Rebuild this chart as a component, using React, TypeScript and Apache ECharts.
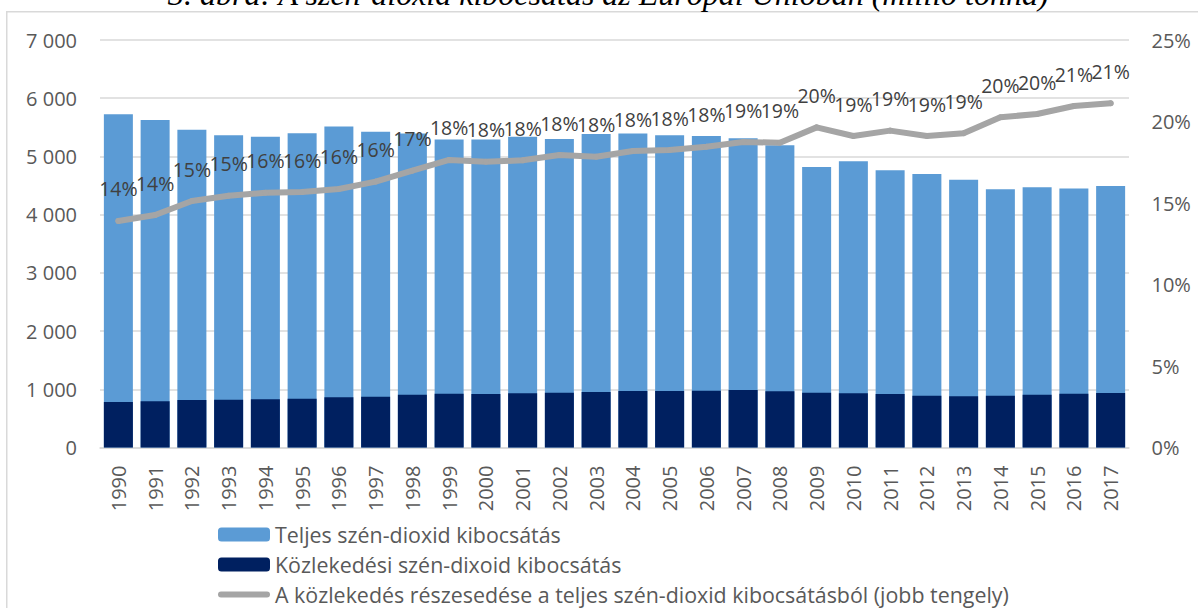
import React, { useEffect, useRef } from "react";
import * as echarts from "echarts";

// Years on the category axis
const years = [
  "1990", "1991", "1992", "1993", "1994", "1995", "1996", "1997", "1998", "1999",
  "2000", "2001", "2002", "2003", "2004", "2005", "2006", "2007", "2008", "2009",
  "2010", "2011", "2012", "2013", "2014", "2015", "2016", "2017",
];

// Total CO2 emissions, million tonnes
const totalEmissions = [
  5725, 5627, 5460, 5364, 5340, 5399, 5512, 5426, 5392, 5289,
  5289, 5340, 5301, 5387, 5392, 5364, 5352, 5313, 5192, 4820,
  4918, 4763, 4699, 4601, 4436, 4471, 4447, 4493,
];

// Transport CO2 emissions, million tonnes
const transportEmissions = [
  782, 794, 816, 821, 828, 839, 862, 873, 907, 924,
  920, 931, 942, 954, 971, 971, 976, 988, 966, 942,
  931, 919, 890, 880, 890, 907, 924, 936,
];

// Share of transport in total emissions, percent (right axis)
const transportShare = [
  13.9, 14.26, 15.12, 15.45, 15.63, 15.67, 15.86, 16.31, 16.98, 17.64,
  17.53, 17.62, 17.94, 17.84, 18.19, 18.25, 18.45, 18.74, 18.7, 19.64,
  19.11, 19.44, 19.11, 19.28, 20.26, 20.46, 20.95, 21.12,
];

const seriesNames = [
  "Teljes szén-dioxid kibocsátás",
  "Közlekedési szén-dixoid kibocsátás",
  "A közlekedés részesedése a teljes szén-dioxid kibocsátásból (jobb tengely)",
];

const titleText = "3. ábra: A szén-dioxid kibocsátás az Európai Unióban (millió tonna)";

const FONT = "'Open Sans', 'Liberation Sans', sans-serif";
const AXIS_COLOR = "#595959";
const GRID_COLOR = "#D9D9D9";
const SHARE_COLOR = "#A5A5A5";

// Thick rounded stroke used as the legend icon of the share line
const LINE_ICON = "path://M3,0 L49,0 A3,3 0 0 1 49,6 L3,6 A3,3 0 0 1 3,0 Z";

const formatThousands = (v: number) =>
  v >= 1000 ? `${Math.floor(v / 1000)} ${String(v % 1000).padStart(3, "0")}` : String(v);

export default function App() {
  const ref = useRef<HTMLDivElement>(null);

  useEffect(() => {
    if (!ref.current) return;
    const chart = echarts.init(ref.current, undefined, { renderer: "svg" });

    const legendBase = {
      orient: "vertical" as const,
      left: 218,
      itemWidth: 52,
      itemHeight: 14,
      padding: 0,
      selectedMode: false,
      textStyle: { fontFamily: FONT, fontSize: 21.4, color: AXIS_COLOR, lineHeight: 20 },
    };

    chart.setOption({
      animation: false,
      backgroundColor: "#ffffff",
      graphic: [
        {
          type: "rect",
          shape: { x: 6.75, y: 11.75, width: 1300, height: 800 },
          style: { fill: "none", stroke: GRID_COLOR, lineWidth: 1.5 },
          silent: true,
        },
        {
          type: "text",
          x: 168,
          y: -6,
          style: {
            text: titleText,
            font: "italic 32px 'Liberation Serif', 'Times New Roman', serif",
            fill: "#000000",
            align: "left",
            verticalAlign: "middle",
          },
          silent: true,
        },
      ],
      grid: { left: 100, right: 69, top: 40, bottom: 160.5, containLabel: false },
      legend: [
        { ...legendBase, top: 524, data: [seriesNames[0]] },
        { ...legendBase, top: 554, data: [seriesNames[1]] },
        {
          ...legendBase,
          top: 584,
          itemHeight: 6,
          itemStyle: { color: SHARE_COLOR, borderWidth: 0 },
          data: [{ name: seriesNames[2], icon: LINE_ICON }],
        },
      ],
      xAxis: {
        type: "category",
        data: years,
        axisTick: { show: false },
        axisLine: { lineStyle: { color: GRID_COLOR, width: 1.5 } },
        axisLabel: {
          rotate: 90,
          margin: 18,
          fontFamily: FONT,
          fontSize: 20,
          color: AXIS_COLOR,
          interval: 0,
        },
      },
      yAxis: [
        {
          type: "value",
          min: 0,
          max: 7000,
          interval: 1000,
          axisLine: { show: false },
          axisTick: { show: false },
          splitLine: { lineStyle: { color: GRID_COLOR, width: 1.5 } },
          axisLabel: {
            margin: 23,
            fontFamily: FONT,
            fontSize: 20,
            color: AXIS_COLOR,
            formatter: (v: number) => formatThousands(v),
          },
        },
        {
          type: "value",
          min: 0,
          max: 25,
          interval: 5,
          axisLine: { show: false },
          axisTick: { show: false },
          splitLine: { show: false },
          axisLabel: {
            margin: 22.5,
            fontFamily: FONT,
            fontSize: 20,
            color: AXIS_COLOR,
            formatter: (v: number) => `${v}%`,
          },
        },
      ],
      series: [
        {
          name: seriesNames[0],
          type: "bar",
          data: totalEmissions,
          barWidth: 29,
          itemStyle: { color: "#5B9BD5" },
          z: 1,
        },
        {
          name: seriesNames[1],
          type: "bar",
          data: transportEmissions,
          barWidth: 29,
          barGap: "-100%",
          itemStyle: { color: "#002060" },
          z: 2,
        },
        {
          name: seriesNames[2],
          type: "line",
          yAxisIndex: 1,
          data: transportShare,
          symbol: "circle",
          symbolSize: 6,
          showSymbol: true,
          lineStyle: { color: SHARE_COLOR, width: 6, cap: "round", join: "round" },
          itemStyle: { color: SHARE_COLOR, borderWidth: 0 },
          z: 3,
          label: {
            show: true,
            position: "top",
            distance: 19,
            fontFamily: FONT,
            fontSize: 19.5,
            color: "#404040",
            formatter: (p: any) => `${Math.round(p.value)}%`,
          },
        },
      ],
    });

    return () => chart.dispose();
  }, []);

  return (
    <div
      ref={ref}
      style={{ position: "absolute", left: 0, top: 0, width: 1198, height: 608 }}
    />
  );
}
